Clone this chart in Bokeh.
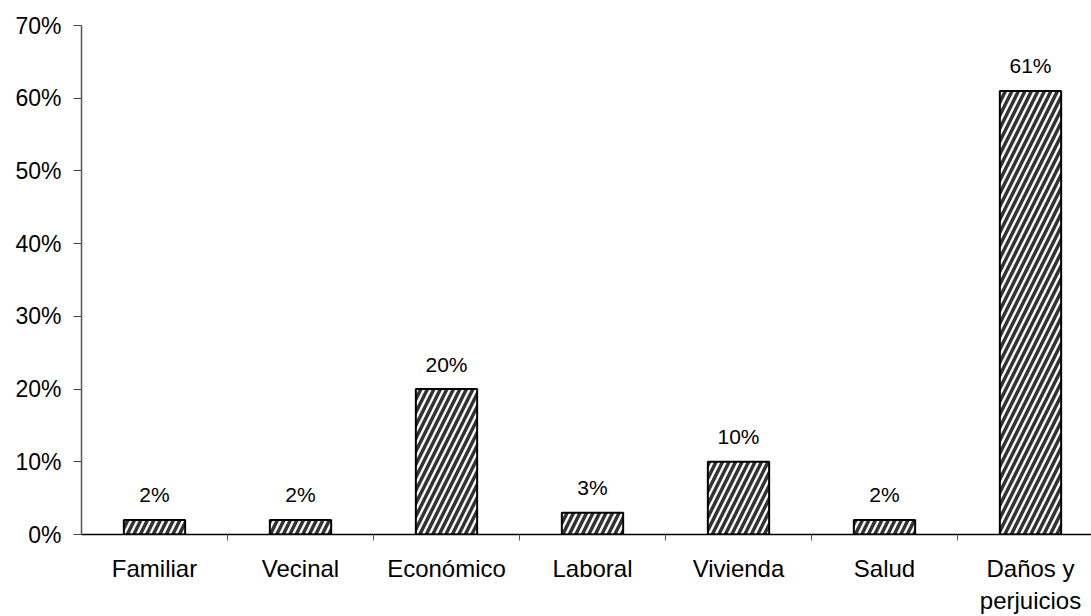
from bokeh.plotting import figure
from bokeh.models import Range1d, FixedTicker, PrintfTickFormatter, ColumnDataSource
from bokeh.embed import file_html
from bokeh.resources import INLINE
from bokeh.core.properties import value

categories = ["Familiar", "Vecinal", "Económico", "Laboral", "Vivienda", "Salud", "Daños y\nperjuicios"]
values = [2, 2, 20, 3, 10, 2, 61]
labels = ["2%", "2%", "20%", "3%", "10%", "2%", "61%"]
y_ticks = [0, 10, 20, 30, 40, 50, 60, 70]

FONT = "Liberation Sans"

xs = list(range(len(categories)))
src = ColumnDataSource(dict(x=xs, top=values, label=labels))

p = figure(width=1091, height=616, output_backend="svg", toolbar_location=None,
           x_range=Range1d(-0.5, -0.5 + 1010 / 146), y_range=Range1d(0, 70),
           min_border_left=81, min_border_right=0, min_border_top=25, min_border_bottom=82)
p.outline_line_color = None
p.xgrid.visible = False
p.ygrid.visible = False
p.background_fill_color = "white"
p.border_fill_color = "white"

p.vbar(x="x", top="top", width=0.42, source=src, fill_color="white",
       line_color="black", line_width=2, hatch_pattern="/", hatch_color="#333333",
       hatch_weight=3.5, hatch_scale=13)

p.text(x="x", y="top", text="label", source=src, text_align="center", text_baseline="middle",
       y_offset=-25, text_font=value(FONT), text_font_size="21px", text_color="black")

# x axis
p.xaxis.ticker = FixedTicker(ticks=xs, minor_ticks=[i + 0.5 for i in xs])
p.xaxis.major_label_overrides = {i: c for i, c in enumerate(categories)}
p.xaxis.major_tick_line_color = None
p.xaxis.major_tick_out = 0
p.xaxis.major_tick_in = 0
p.xaxis.minor_tick_out = 6
p.xaxis.minor_tick_in = 0
p.xaxis.minor_tick_line_color = "#555555"
p.xaxis.axis_line_color = "black"
p.xaxis.axis_line_width = 1.5
p.xaxis.major_label_standoff = 14
p.xaxis.major_label_text_font = FONT
p.xaxis.major_label_text_font_size = "24px"
p.xaxis.major_label_text_color = "black"
p.xaxis.major_label_text_align = "center"

# y axis
p.yaxis.ticker = FixedTicker(ticks=y_ticks)
p.yaxis.formatter = PrintfTickFormatter(format="%d%%")
p.yaxis.minor_tick_line_color = None
p.yaxis.major_tick_out = 8
p.yaxis.major_tick_in = 0
p.yaxis.major_tick_line_color = "#444444"
p.yaxis.axis_line_color = "#555555"
p.yaxis.axis_line_width = 1.5
p.yaxis.major_label_standoff = 12
p.yaxis.major_label_text_font = FONT
p.yaxis.major_label_text_font_size = "23px"
p.yaxis.major_label_text_color = "black"

open("out.html", "w").write(file_html(p, INLINE))
